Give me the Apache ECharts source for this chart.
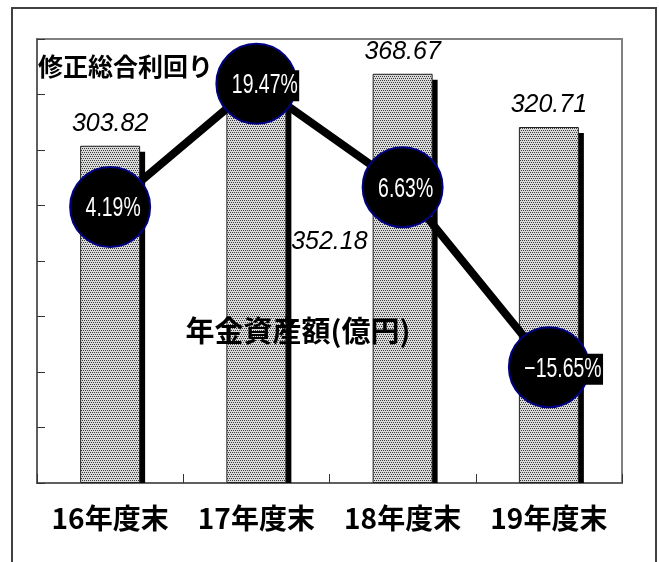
<!DOCTYPE html>
<html>
<head>
<meta charset="utf-8">
<script src="https://cdn.jsdelivr.net/npm/echarts@6/dist/echarts.min.js"></script>
<style>
html,body{margin:0;padding:0;background:#fff;}
#chart{width:659px;height:562px;}
</style>
</head>
<body>
<div id="chart"></div>
<script>
// ---- data ----
const categories = ['16年度末', '17年度末', '18年度末', '19年度末'];
const assetValues = [303.82, 352.18, 368.67, 320.71];   // 年金資産額(億円)
const returnValues = [4.19, 19.47, 6.63, -15.65];      // 修正総合利回り(%)
const assetAxisRange = { min: 0, max: 400, interval: 50 };
const returnAxisRange = { min: -30, max: 25 };

// ---- dotted bar pattern ----
const pat = document.createElement('canvas');
pat.width = 4; pat.height = 4;
const pc = pat.getContext('2d');
pc.fillStyle = '#dadada';
pc.fillRect(0, 0, 4, 4);
pc.fillStyle = '#3a3a3a';
[[0,0],[2,0],[1,2],[3,2]].forEach(p => pc.fillRect(p[0], p[1], 1, 1));

const BAR_W = 60;
const jpFont = "'Noto Sans CJK JP', sans-serif";

const barData = assetValues.map((v, i) =>
  i === 1 ? { value: v, label: { offset: [73, 171] } } : v);
const shadowData = assetValues.map((v, i) => [i, v]);
const returnLabelData = returnValues.map((v, i) => [i, v]);

const chart = echarts.init(document.getElementById('chart'), null, { renderer: 'canvas' });
chart.setOption({
  animation: false,
  backgroundColor: '#fff',
  grid: { left: 37, right: 37, top: 39, bottom: 79, show: true, borderColor: '#808080', borderWidth: 2 },
  xAxis: {
    type: 'category',
    data: categories,
    axisLine: { show: true, lineStyle: { color: '#555', width: 1.5 } },
    axisTick: { show: true, inside: true, length: 9, lineStyle: { color: '#333' } },
    axisLabel: { interval: 0, color: '#000', fontSize: 28, fontWeight: 'bold', fontFamily: jpFont, margin: 21 },
    splitLine: { show: false }
  },
  yAxis: [
    {
      type: 'value',
      min: assetAxisRange.min, max: assetAxisRange.max, interval: assetAxisRange.interval,
      axisLine: { show: true, lineStyle: { color: '#555', width: 1.5 } },
      axisTick: { show: true, inside: true, length: 8, lineStyle: { color: '#333' } },
      axisLabel: { show: false },
      splitLine: { show: false }
    },
    {
      type: 'value',
      min: returnAxisRange.min, max: returnAxisRange.max,
      show: false,
      splitLine: { show: false }
    }
  ],
  series: [
    {
      // black drop shadow behind each bar
      type: 'custom',
      yAxisIndex: 0,
      z: 1,
      silent: true,
      data: shadowData,
      encode: { x: 0, y: 1 },
      renderItem: function (params, api) {
        const top = api.coord([api.value(0), api.value(1)]);
        const base = api.coord([api.value(0), 0]);
        return {
          type: 'rect',
          shape: { x: top[0] - BAR_W / 2 + 5, y: top[1] + 6, width: BAR_W, height: base[1] - top[1] - 6 },
          style: { fill: '#000' }
        };
      }
    },
    {
      type: 'bar',
      yAxisIndex: 0,
      z: 2,
      barWidth: BAR_W,
      data: barData,
      itemStyle: { color: { image: pat, repeat: 'repeat' }, borderColor: '#222', borderWidth: 1 },
      label: {
        show: true, position: 'top', distance: 9,
        color: '#000', fontSize: 25, fontStyle: 'italic', fontFamily: "'Liberation Sans', Arial, sans-serif",
        formatter: p => p.value.toFixed(2)
      },
      emphasis: { disabled: true }
    },
    {
      type: 'line',
      yAxisIndex: 1,
      z: 5,
      data: returnValues,
      symbol: 'circle',
      symbolSize: 80,
      lineStyle: { color: '#000', width: 8 },
      itemStyle: { color: '#000', borderColor: '#000080', borderWidth: 2 },
      label: { show: false },
      emphasis: { disabled: true }
    },
    {
      // condensed white percentage labels on black boxes
      type: 'custom',
      yAxisIndex: 1,
      z: 6,
      silent: true,
      data: returnLabelData,
      encode: { x: 0, y: 1 },
      renderItem: function (params, api) {
        const v = api.value(1);
        const pt = api.coord([api.value(0), v]);
        return {
          type: 'text',
          x: pt[0] - 26,
          y: pt[1] + 2,
          scaleX: 0.72,
          style: {
            text: v.toFixed(2).replace('-', '\u2212') + '%',
            fill: '#fff',
            font: "27px 'Liberation Sans', Arial, sans-serif",
            align: 'left',
            verticalAlign: 'middle',
            backgroundColor: '#000',
            padding: [2, 2, 2, 2]
          }
        };
      }
    }
  ],
  graphic: [
    {
      type: 'rect', z: -10, silent: true,
      shape: { x: 12, y: 8, width: 644, height: 600 },
      style: { fill: 'none', stroke: '#404040', lineWidth: 2 }
    },
    {
      type: 'text', z: 100, silent: true,
      style: { x: 38, y: 66, text: '修正総合利回り', font: "bold 25px 'Noto Sans CJK JP', sans-serif", fill: '#000', verticalAlign: 'middle' }
    },
    {
      type: 'text', z: 100, silent: true,
      style: { x: 298, y: 331, text: '年金資産額(億円)', font: "bold 29px 'Noto Sans CJK JP', sans-serif", fill: '#000', align: 'center', verticalAlign: 'middle' }
    }
  ]
});
</script>
</body>
</html>
